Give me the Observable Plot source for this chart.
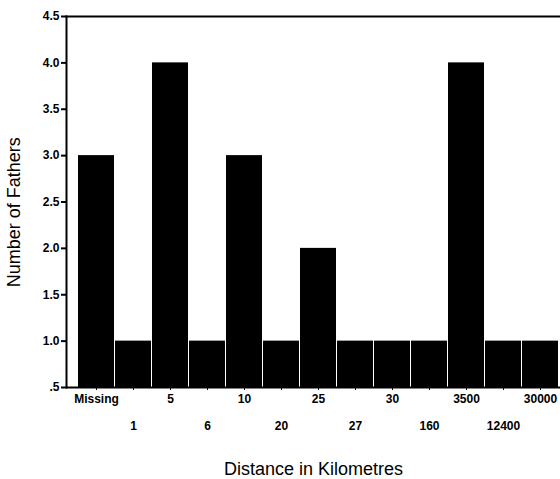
<!DOCTYPE html>
<html>
<head>
<meta charset="utf-8">
<script src="https://cdn.jsdelivr.net/npm/d3@7"></script>
<script src="https://cdn.jsdelivr.net/npm/@observablehq/plot@0.6"></script>
<style>
  body { margin: 0; background: #fff; }
  #chart svg { font-family: "Liberation Sans", Arial, sans-serif; }
</style>
</head>
<body>
<div id="chart"></div>
<script>
const categories = ["Missing", "1", "5", "6", "10", "20", "25", "27", "30", "160", "3500", "12400", "30000"];
const fathers = [3, 1, 4, 1, 3, 1, 2, 1, 1, 1, 4, 1, 1];
const yTicks = [0.5, 1.0, 1.5, 2.0, 2.5, 3.0, 3.5, 4.0, 4.5];
const xTitle = "Distance in Kilometres";
const yTitle = "Number of Fathers";

const data = categories.map((c, i) => ({cat: c, v: fathers[i]}));
const row1 = categories.filter((c, i) => i % 2 === 0);
const row2 = categories.filter((c, i) => i % 2 === 1);

const chart = Plot.plot({
  width: 560,
  height: 479,
  marginLeft: 66,
  marginRight: 0,
  marginTop: 16,
  marginBottom: 92,
  style: {fontFamily: "'Liberation Sans', Arial, sans-serif", background: "#fff", color: "#000"},
  x: {type: "band", domain: categories, range: [77, 558], paddingInner: 0.03, paddingOuter: 0, axis: null},
  y: {domain: [0.5, 4.5], axis: null},
  marks: [
    Plot.barY(data, {x: "cat", y1: 0.5, y2: "v", fill: "#000", inset: 0}),
    Plot.frame({anchor: "top", strokeWidth: 2}),
    Plot.frame({anchor: "left", strokeWidth: 2}),
    Plot.ruleY([0.5], {strokeWidth: 2}),
    Plot.axisY(yTicks, {
      anchor: "left", tickSize: 5, tickPadding: 2, strokeWidth: 2,
      tickFormat: d => d === 0.5 ? ".5" : d.toFixed(1),
      fontSize: 12, fontWeight: "bold", label: null
    }),
    Plot.axisX(row1, {anchor: "bottom", tickSize: 3, tickPadding: 4, fontSize: 12, fontWeight: "bold", label: null}),
    Plot.axisX(row2, {anchor: "bottom", tickSize: 3, tickPadding: 31, fontSize: 12, fontWeight: "bold", label: null}),
    Plot.text([yTitle], {frameAnchor: "left", y: 2.39, dx: -52, rotate: -90, fontSize: 18, text: d => d, textAnchor: "middle", lineAnchor: "middle"}),
    Plot.text([xTitle], {frameAnchor: "bottom", dy: 82, fontSize: 18, text: d => d, lineAnchor: "middle"})
  ]
});
document.getElementById("chart").appendChild(chart);
</script>
</body>
</html>
